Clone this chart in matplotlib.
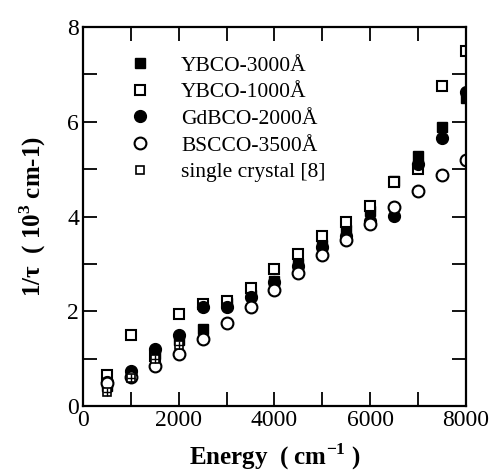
import matplotlib
matplotlib.use('Agg')
import matplotlib.pyplot as plt
from matplotlib.ticker import MultipleLocator

plt.rcParams['font.family'] = ['Liberation Serif', 'DejaVu Serif']
plt.rcParams['mathtext.fontset'] = 'custom'
plt.rcParams['mathtext.rm'] = 'Liberation Serif'
plt.rcParams['mathtext.bf'] = 'Liberation Serif:bold'

# 数据
energy = [500, 1000, 1500, 2000, 2500, 3000, 3500, 4000,
          4500, 5000, 5500, 6000, 6500, 7000, 7500, 8000]
ybco_3000 = [0.42, 0.68, 1.10, 1.40, 1.62, 2.18, 2.35, 2.65,
             3.00, 3.40, 3.72, 4.12, 4.76, 5.28, 5.90, 6.50]
ybco_1000 = [0.65, 1.50, 1.05, 1.94, 2.15, 2.22, 2.50, 2.90,
             3.22, 3.60, 3.88, 4.22, 4.72, 5.00, 6.75, 7.50]
gdbco_2000 = [0.52, 0.75, 1.20, 1.50, 2.10, 2.10, 2.30, 2.62,
              2.95, 3.35, 3.60, 3.90, 4.02, 5.10, 5.65, 6.62]
bscco_3500 = [0.50, 0.62, 0.85, 1.10, 1.42, 1.75, 2.10, 2.45,
              2.82, 3.20, 3.50, 3.85, 4.20, 4.55, 4.88, 5.20]
crystal_e = [500, 1000, 1500, 2000]
crystal = [0.30, 0.60, 1.00, 1.30]

fig = plt.figure(figsize=(4.95, 4.74), dpi=100)
ax = fig.add_axes([0.168, 0.143, 0.773, 0.800])

ms = 7.5
ax.plot(energy, ybco_3000, 's', color='black', ms=ms, label='YBCO-3000Å')
ax.plot(energy, ybco_1000, 's', mfc='white', mec='black', mew=1.5, ms=ms,
        label='YBCO-1000Å')
ax.plot(energy, gdbco_2000, 'o', color='black', ms=ms + 1, label='GdBCO-2000Å')
ax.plot(energy, bscco_3500, 'o', mfc='white', mec='black', mew=1.5, ms=ms + 1,
        label='BSCCO-3500Å')
ax.plot(crystal_e, crystal, 's', mfc='white', mec='black', mew=1.2, ms=ms - 1.5,
        label='single crystal [8]')
ax.plot(crystal_e, crystal, '+', color='black', mew=1.0, ms=ms - 1.5)

ax.set_xlim(0, 8000)
ax.set_ylim(0, 8)
ax.xaxis.set_major_locator(MultipleLocator(2000))
ax.xaxis.set_minor_locator(MultipleLocator(1000))
ax.yaxis.set_major_locator(MultipleLocator(2))
ax.yaxis.set_minor_locator(MultipleLocator(1))
ax.tick_params(which='both', direction='in', top=True, right=True,
               length=10, width=1.3, labelsize=17, pad=3)
for s in ax.spines.values():
    s.set_linewidth(1.6)

ax.set_xlabel('Energy  ( cm$^{\\mathbf{-1}}$ )', fontsize=18, fontweight='bold',
              labelpad=7)
ax.set_ylabel('1/τ  ( 10$^{\\mathbf{3}}$ cm-1)', fontsize=18, fontweight='bold',
              labelpad=14)

ax.legend(loc='upper left', bbox_to_anchor=(0.07, 0.975), frameon=False,
          fontsize=15.5, handletextpad=1.4, labelspacing=0.3, handlelength=1.0)

fig.savefig('out.png', dpi=100)
